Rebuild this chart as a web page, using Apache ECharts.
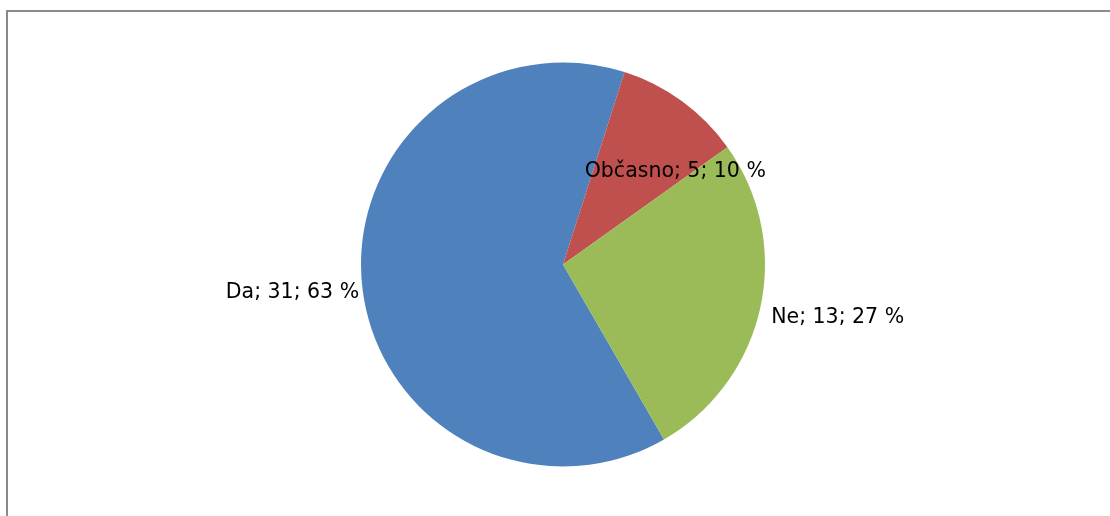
<!DOCTYPE html>
<html>
<head>
<meta charset="utf-8">
<script src="https://cdn.jsdelivr.net/npm/echarts@6/dist/echarts.min.js"></script>
<style>html,body{margin:0;padding:0;background:#fff;}#c{width:1110px;height:516px;}</style>
</head>
<body>
<div id="c"></div>
<script>
const categories = ['Da', 'Občasno', 'Ne'];
const values = [31, 5, 13];
const colors = ['#4F81BD', '#C0504D', '#9BBB59'];

const total = values.reduce((a, b) => a + b, 0);
const labelTweaks = [
  { position: 'outside', offset: [2, 7], len: 0 },
  { position: 'inside', offset: [51, -9], len: 0 },
  { position: 'outside', offset: [-3, 8], len: 9 }
];

const chart = echarts.init(document.getElementById('c'), null, { renderer: 'canvas' });
chart.setOption({
  animation: false,
  backgroundColor: '#fff',
  graphic: [{
    type: 'rect',
    shape: { x: 7, y: 11, width: 1300, height: 700 },
    style: { fill: 'none', stroke: '#8a8a8a', lineWidth: 2 },
    silent: true
  }],
  series: [{
    type: 'pie',
    center: [563, 264.5],
    radius: [0, 202],
    startAngle: -60,
    clockwise: true,
    avoidLabelOverlap: false,
    label: {
      color: '#000',
      fontFamily: '"DejaVu Sans", sans-serif',
      fontSize: 20.5,
      formatter: p => p.name + '; ' + p.value + '; ' + Math.round(p.value / total * 100) + ' %'
    },
    labelLine: { show: false, length: 0, length2: 0 },
    itemStyle: { borderWidth: 0 },
    emphasis: { disabled: true },
    data: categories.map((name, i) => ({
      name,
      value: values[i],
      itemStyle: { color: colors[i] },
      label: { position: labelTweaks[i].position, offset: labelTweaks[i].offset },
      labelLine: { show: false, length: labelTweaks[i].len, length2: 0 }
    }))
  }]
});
</script>
</body>
</html>
